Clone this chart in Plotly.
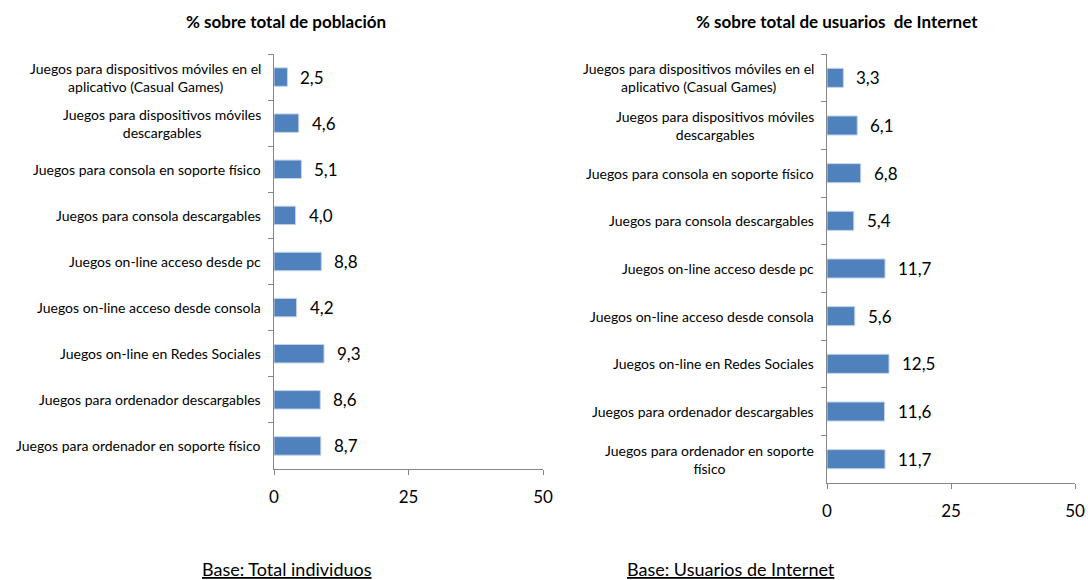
import plotly.graph_objects as go

categories_pob = [
    "Juegos para dispositivos móviles en el<br>aplicativo (Casual Games)",
    "Juegos para dispositivos móviles<br>descargables",
    "Juegos para consola en soporte físico",
    "Juegos para consola descargables",
    "Juegos on-line acceso desde pc",
    "Juegos on-line acceso desde consola",
    "Juegos on-line en Redes Sociales",
    "Juegos para ordenador descargables",
    "Juegos para ordenador en soporte físico",
]
categories_int = [
    "Juegos para dispositivos móviles en el<br>aplicativo (Casual Games)",
    "Juegos para dispositivos móviles<br>descargables",
    "Juegos para consola en soporte físico",
    "Juegos para consola descargables",
    "Juegos on-line acceso desde pc",
    "Juegos on-line acceso desde consola",
    "Juegos on-line en Redes Sociales",
    "Juegos para ordenador descargables",
    "Juegos para ordenador en soporte<br>físico",
]
values_pob = [2.5, 4.6, 5.1, 4.0, 8.8, 4.2, 9.3, 8.6, 8.7]
values_int = [3.3, 6.1, 6.8, 5.4, 11.7, 5.6, 12.5, 11.6, 11.7]
x_ticks = [0, 25, 50]
title_pob = "% sobre total de población"
title_int = "% sobre total de usuarios  de Internet"
base_pob = "Base: Total individuos"
base_int = "Base: Usuarios de Internet"

FONT = "Lato, Open Sans, sans-serif"
BAR = "#4F81BD"
AX = "#868686"

fig = go.Figure()
fig.add_trace(go.Bar(x=values_pob, y=categories_pob, orientation="h",
                     marker=dict(color=BAR, line=dict(color="#C5D3E8", width=1)),
                     xaxis="x", yaxis="y", showlegend=False, hoverinfo="x+y"))
fig.add_trace(go.Bar(x=values_int, y=categories_int, orientation="h",
                     marker=dict(color=BAR, line=dict(color="#C5D3E8", width=1)),
                     xaxis="x2", yaxis="y2", showlegend=False, hoverinfo="x+y"))

W, H = 1088, 580
def px_x(v): return v / W
def px_y(v): return (H - v) / H

common_x = dict(range=[0, 50], tickvals=x_ticks, ticks="outside", ticklen=5,
                tickcolor=AX, showline=True, linecolor=AX, linewidth=1,
                showgrid=False, zeroline=False, automargin=False,
                ticklabelstandoff=8,
                tickfont=dict(family=FONT, size=17, color="#000"), fixedrange=True)
common_y = dict(type="category", autorange="reversed", showticklabels=False,
                ticks="outside", ticklen=5, tickcolor=AX, tickson="boundaries",
                showline=True, linecolor=AX, linewidth=1, showgrid=False,
                automargin=False, fixedrange=True)

fig.update_layout(
    width=W, height=H,
    margin=dict(l=0, r=0, t=0, b=0, autoexpand=False),
    paper_bgcolor="white", plot_bgcolor="white",
    bargap=0.6,
    xaxis=dict(domain=[px_x(274), px_x(543)], anchor="y", **common_x),
    yaxis=dict(domain=[px_y(469), px_y(54)], anchor="x", **common_y),
    xaxis2=dict(domain=[px_x(827), px_x(1075)], anchor="y2", **common_x),
    yaxis2=dict(domain=[px_y(483), px_y(54)], anchor="x2", **common_y),
)

ann = []
for cats, vals, xr, yr in [(categories_pob, values_pob, "x", "y"),
                           (categories_int, values_int, "x2", "y2")]:
    for c, v in zip(cats, vals):
        ann.append(dict(x=0, y=c, xref=xr + " domain", yref=yr, text=c,
                        showarrow=False, xanchor="right", yanchor="middle",
                        align="center", xshift=-11,
                        font=dict(family=FONT, size=14, color="#000")))
        ann.append(dict(x=v, y=c, xref=xr, yref=yr,
                        text=f"{v:.1f}".replace(".", ","),
                        showarrow=False, xanchor="left", yanchor="middle",
                        xshift=11,
                        font=dict(family=FONT, size=17, color="#000")))

for x, y, t, s in [(286, 21, f"<b>{title_pob}</b>", 17),
                   (837, 21, f"<b>{title_int}</b>", 17),
                   (287, 569, f"<u>{base_pob}</u>", 18),
                   (731, 569, f"<u>{base_int}</u>", 18)]:
    ann.append(dict(x=px_x(x), y=px_y(y), xref="paper", yref="paper",
                    text=t, showarrow=False, xanchor="center", yanchor="middle",
                    font=dict(family=FONT, size=s, color="#000")))
fig.update_layout(annotations=ann)

fig.write_html("out.html", config={"displayModeBar": False},
               post_script="document.body.style.margin='0';document.body.style.overflow='hidden';")
